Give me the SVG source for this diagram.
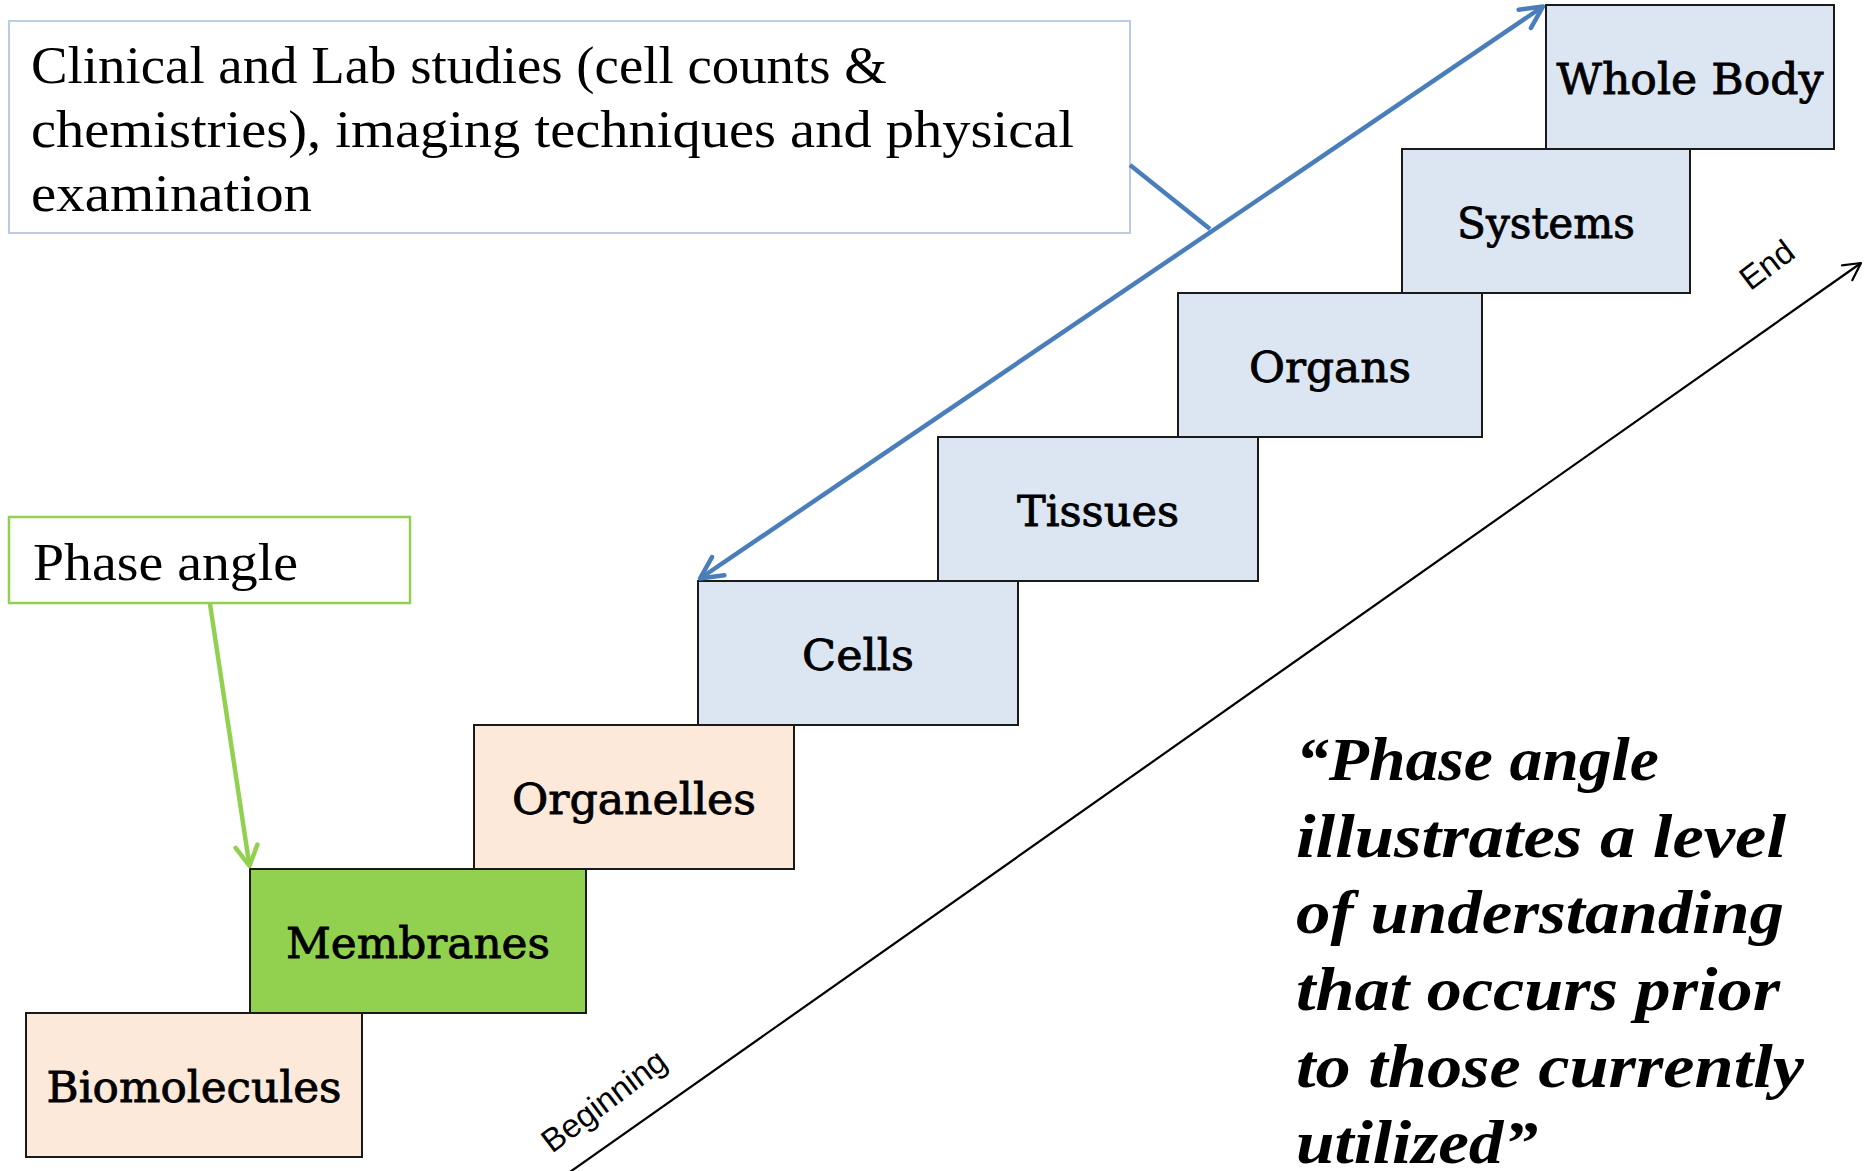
<svg xmlns="http://www.w3.org/2000/svg" width="1873" height="1171" viewBox="0 0 1873 1171">
<style>
.box{stroke:#1a1a1a;stroke-width:2}
.blue{fill:#dce6f2}
.peach{fill:#fde9d9}
.green{fill:#92d050}
.lbl{font-family:"DejaVu Serif","Liberation Serif",serif;font-size:42px;fill:#000;stroke:#000;stroke-width:0.8;text-anchor:middle}
.call{font-family:"Liberation Serif","DejaVu Serif",serif;font-size:52px;fill:#000}
.quote{font-family:"Liberation Serif","DejaVu Serif",serif;font-size:61px;font-weight:bold;font-style:italic;fill:#000}
.axis{font-family:"Liberation Sans","DejaVu Sans",sans-serif;font-size:33px;fill:#000;text-anchor:middle}
</style>
<defs>
<marker id="mBlue" markerUnits="userSpaceOnUse" markerWidth="40" markerHeight="40" refX="0" refY="0" viewBox="-30 -20 40 40" orient="auto-start-reverse" overflow="visible">
<path d="M-22,-11 L0,0 L-22,11" fill="none" stroke="#4a7ebb" stroke-width="4.5" stroke-linecap="round" stroke-linejoin="round"/>
</marker>
<marker id="mGreen" markerUnits="userSpaceOnUse" markerWidth="40" markerHeight="40" refX="0" refY="0" viewBox="-30 -20 40 40" orient="auto" overflow="visible">
<path d="M-20,-11 L0,0 L-20,11" fill="none" stroke="#92d050" stroke-width="4.5" stroke-linecap="round" stroke-linejoin="round"/>
</marker>
<marker id="mBlack" markerUnits="userSpaceOnUse" markerWidth="40" markerHeight="40" refX="0" refY="0" viewBox="-30 -20 40 40" orient="auto" overflow="visible">
<path d="M-17,-9 L0,0 L-17,9" fill="none" stroke="#000" stroke-width="2.2" stroke-linecap="round" stroke-linejoin="round"/>
</marker>
</defs>
<rect width="1873" height="1171" fill="#fff"/>

<g id="callout-clinical">
<rect x="9" y="21" width="1121" height="212" fill="#fff" stroke="#b9cde5" stroke-width="2"/>
<text class="call" x="31" y="83" textLength="856" lengthAdjust="spacingAndGlyphs">Clinical and Lab studies (cell counts &amp;</text>
<text class="call" x="31" y="147" textLength="1043" lengthAdjust="spacingAndGlyphs">chemistries), imaging techniques and physical</text>
<text class="call" x="31" y="211" textLength="281" lengthAdjust="spacingAndGlyphs">examination</text>
</g>

<g id="callout-phase">
<rect x="9" y="517" width="401" height="86" fill="#fff" stroke="#92d050" stroke-width="2.5"/>
<text class="call" x="33" y="580" textLength="265" lengthAdjust="spacingAndGlyphs">Phase angle</text>
</g>

<g id="node-biomolecules">
<rect class="box peach" x="26" y="1013" width="336" height="144"/>
<text class="lbl" x="194" y="1102" textLength="295" lengthAdjust="spacingAndGlyphs">Biomolecules</text>
</g>
<g id="node-membranes">
<rect class="box green" x="250" y="869" width="336" height="144"/>
<text class="lbl" x="418" y="958" textLength="264" lengthAdjust="spacingAndGlyphs">Membranes</text>
</g>
<g id="node-organelles">
<rect class="box peach" x="474" y="725" width="320" height="144"/>
<text class="lbl" x="634" y="814" textLength="244" lengthAdjust="spacingAndGlyphs">Organelles</text>
</g>
<g id="node-cells">
<rect class="box blue" x="698" y="581" width="320" height="144"/>
<text class="lbl" x="858" y="670" textLength="112" lengthAdjust="spacingAndGlyphs">Cells</text>
</g>
<g id="node-tissues">
<rect class="box blue" x="938" y="437" width="320" height="144"/>
<text class="lbl" x="1098" y="526" textLength="162" lengthAdjust="spacingAndGlyphs">Tissues</text>
</g>
<g id="node-organs">
<rect class="box blue" x="1178" y="293" width="304" height="144"/>
<text class="lbl" x="1330" y="382" textLength="162" lengthAdjust="spacingAndGlyphs">Organs</text>
</g>
<g id="node-systems">
<rect class="box blue" x="1402" y="149" width="288" height="144"/>
<text class="lbl" x="1546" y="238" textLength="178" lengthAdjust="spacingAndGlyphs">Systems</text>
</g>
<g id="node-wholebody">
<rect class="box blue" x="1546" y="5" width="288" height="144"/>
<text class="lbl" x="1690" y="94" textLength="267" lengthAdjust="spacingAndGlyphs">Whole Body</text>
</g>

<g id="connectors" fill="none">
<line x1="700" y1="578.5" x2="1543" y2="6.5" stroke="#4a7ebb" stroke-width="4.5" marker-start="url(#mBlue)" marker-end="url(#mBlue)"/>
<line x1="1130" y1="165" x2="1210" y2="229" stroke="#4a7ebb" stroke-width="4.5"/>
<line x1="210" y1="604" x2="249.5" y2="866" stroke="#92d050" stroke-width="4.5" marker-end="url(#mGreen)"/>
<line x1="560" y1="1179" x2="1861" y2="263" stroke="#000" stroke-width="2.2" marker-end="url(#mBlack)"/>
</g>

<g id="axis-labels">
<text class="axis" transform="translate(1767,265) rotate(-37)" x="0" y="11">End</text>
<text class="axis" transform="translate(604,1101) rotate(-37)" x="0" y="11">Beginning</text>
</g>

<g id="quote">
<text class="quote" x="1296" y="780" textLength="363" lengthAdjust="spacingAndGlyphs">“Phase angle</text>
<text class="quote" x="1296" y="857" textLength="490" lengthAdjust="spacingAndGlyphs">illustrates a level</text>
<text class="quote" x="1296" y="933" textLength="488" lengthAdjust="spacingAndGlyphs">of understanding</text>
<text class="quote" x="1296" y="1010" textLength="484" lengthAdjust="spacingAndGlyphs">that occurs prior</text>
<text class="quote" x="1296" y="1087" textLength="508" lengthAdjust="spacingAndGlyphs">to those currently</text>
<text class="quote" x="1296" y="1163" textLength="242" lengthAdjust="spacingAndGlyphs">utilized”</text>
</g>
</svg>
